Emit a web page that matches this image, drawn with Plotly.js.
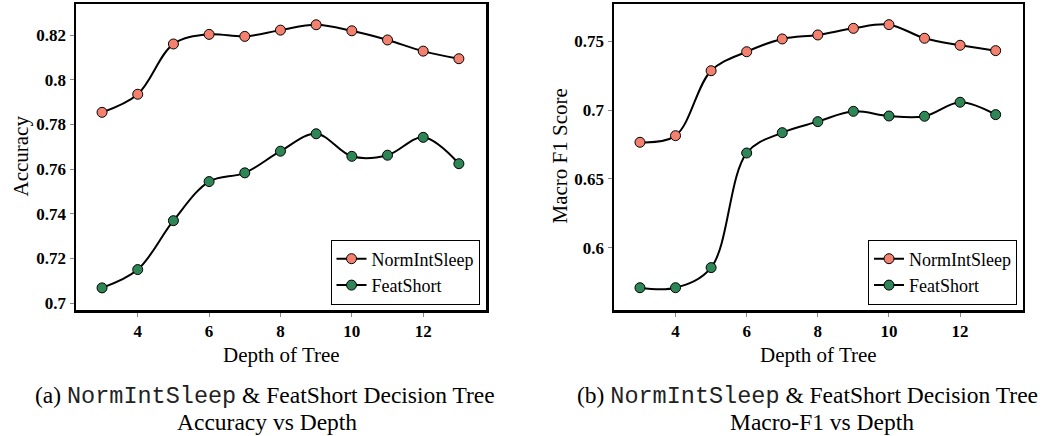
<!DOCTYPE html>
<html>
<head>
<meta charset="utf-8">
<script src="https://cdn.plot.ly/plotly-3.0.1.min.js"></script>
<style>html,body{margin:0;padding:0;background:#fff;}#chart{width:1044px;height:436px;}</style>
</head>
<body>
<div id="chart"></div>
<script>
const depth = [3, 4, 5, 6, 7, 8, 9, 10, 11, 12, 13];
const accNormIntSleep = [0.7854, 0.7935, 0.8160, 0.8203, 0.8194, 0.8222, 0.8246, 0.8219, 0.8178, 0.8128, 0.8094];
const accFeatShort   = [0.7068, 0.7150, 0.7369, 0.7544, 0.7583, 0.7680, 0.7758, 0.7657, 0.7662, 0.7742, 0.7624];
const f1NormIntSleep = [0.6766, 0.6814, 0.7286, 0.7424, 0.7517, 0.7546, 0.7594, 0.7621, 0.7522, 0.7471, 0.7432];
const f1FeatShort    = [0.5709, 0.5709, 0.5855, 0.6688, 0.6836, 0.6916, 0.6991, 0.6957, 0.6955, 0.7057, 0.6967];
const seriesNames = ['NormIntSleep', 'FeatShort'];
const xTicks = [4, 6, 8, 10, 12];
const accTicks = [0.7, 0.72, 0.74, 0.76, 0.78, 0.8, 0.82];
const accTickText = ['0.7', '0.72', '0.74', '0.76', '0.78', '0.8', '0.82'];
const f1Ticks = [0.6, 0.65, 0.7, 0.75];
const f1TickText = ['0.6', '0.65', '0.7', '0.75'];

const colors = ['#F4806F', '#2E8555'];
const SERIF = 'Liberation Serif, Times New Roman, serif';
const MONO = 'Liberation Mono, Courier New, monospace';

function tr(y, i, xa, ya, leg) {
  return {
    x: depth, y: y, name: seriesNames[i], type: 'scatter', mode: 'lines+markers',
    xaxis: xa, yaxis: ya, legend: leg,
    line: {color: '#000', width: 2, shape: 'spline', smoothing: 1},
    marker: {size: 10, color: colors[i], line: {color: '#000', width: 1}}
  };
}

const data = [
  tr(accNormIntSleep, 0, 'x', 'y', 'legend'),
  tr(accFeatShort, 1, 'x', 'y', 'legend'),
  tr(f1NormIntSleep, 0, 'x2', 'y2', 'legend2'),
  tr(f1FeatShort, 1, 'x2', 'y2', 'legend2')
];

const W = 1044, H = 436;
const px = v => v / W, py = v => 1 - v / H;

function xax(dom) {
  return {
    domain: dom, range: [2.27, 13.76], tickvals: xTicks, ticktext: xTicks.map(String),
    ticks: 'outside', ticklen: 4, tickcolor: '#888', tickwidth: 1,
    showline: true, linecolor: '#000', linewidth: 2.5, mirror: true,
    showgrid: false, zeroline: false,
    tickfont: {family: SERIF, size: 17, color: '#000', weight: 'bold'}
  };
}
function yax(dom, range, vals, text, anchor) {
  return {
    domain: dom, range: range, tickvals: vals, ticktext: text, anchor: anchor,
    ticks: 'outside', ticklen: 4, tickcolor: '#888', tickwidth: 1,
    showline: true, linecolor: '#000', linewidth: 2.5, mirror: true,
    showgrid: false, zeroline: false,
    tickfont: {family: SERIF, size: 17, color: '#000', weight: 'bold'}
  };
}

const yDom = [py(310), py(4)];
const legendStyle = {
  font: {family: SERIF, size: 18, color: '#000'},
  bgcolor: '#fff', bordercolor: '#000', borderwidth: 1,
  xref: 'paper', yref: 'paper', xanchor: 'right', yanchor: 'bottom',
  itemwidth: 30, tracegroupgap: 0
};

const capFont = {family: SERIF, size: 23.5, color: '#000'};
const layout = {
  width: W, height: H,
  margin: {l: 0, r: 0, t: 0, b: 0},
  paper_bgcolor: '#fff', plot_bgcolor: '#fff',
  showlegend: true,
  xaxis: Object.assign(xax([px(76), px(486)]), {anchor: 'y'}),
  yaxis: yax(yDom, [0.6969, 0.8339], accTicks, accTickText, 'x'),
  xaxis2: Object.assign(xax([px(614), px(1022.7)]), {anchor: 'y2'}),
  yaxis2: yax(yDom, [0.5547, 0.7771], f1Ticks, f1TickText, 'x2'),
  legend: Object.assign({}, legendStyle, {x: px(479.5), y: py(304.5)}),
  legend2: Object.assign({}, legendStyle, {x: px(1017), y: py(304.5)}),
  annotations: [
    {text: 'Accuracy', x: px(20.5), y: py(156), textangle: -90},
    {text: 'Macro F1 Score', x: px(559), y: py(156.5), textangle: -90},
    {text: 'Depth of Tree', x: px(281), y: py(355)},
    {text: 'Depth of Tree', x: px(818), y: py(355)},
    {text: '(a) <span style="font-family:' + MONO + ';color:#222">NormIntSleep</span> &amp; FeatShort Decision Tree', x: px(33), y: py(396), xanchor: 'left', font: capFont},
    {text: 'Accuracy vs Depth', x: px(266.5), y: py(421.5), font: capFont},
    {text: '(b) <span style="font-family:' + MONO + ';color:#222">NormIntSleep</span> &amp; FeatShort Decision Tree', x: px(575), y: py(396), xanchor: 'left', font: capFont},
    {text: 'Macro-F1 vs Depth', x: px(822), y: py(421.5), font: capFont}
  ].map(a => Object.assign({
    xref: 'paper', yref: 'paper', showarrow: false, xanchor: 'center', yanchor: 'middle',
    font: {family: SERIF, size: 21, color: '#000'}
  }, a))
};

Plotly.newPlot('chart', data, layout, {displayModeBar: false, staticPlot: true});
</script>
</body>
</html>
